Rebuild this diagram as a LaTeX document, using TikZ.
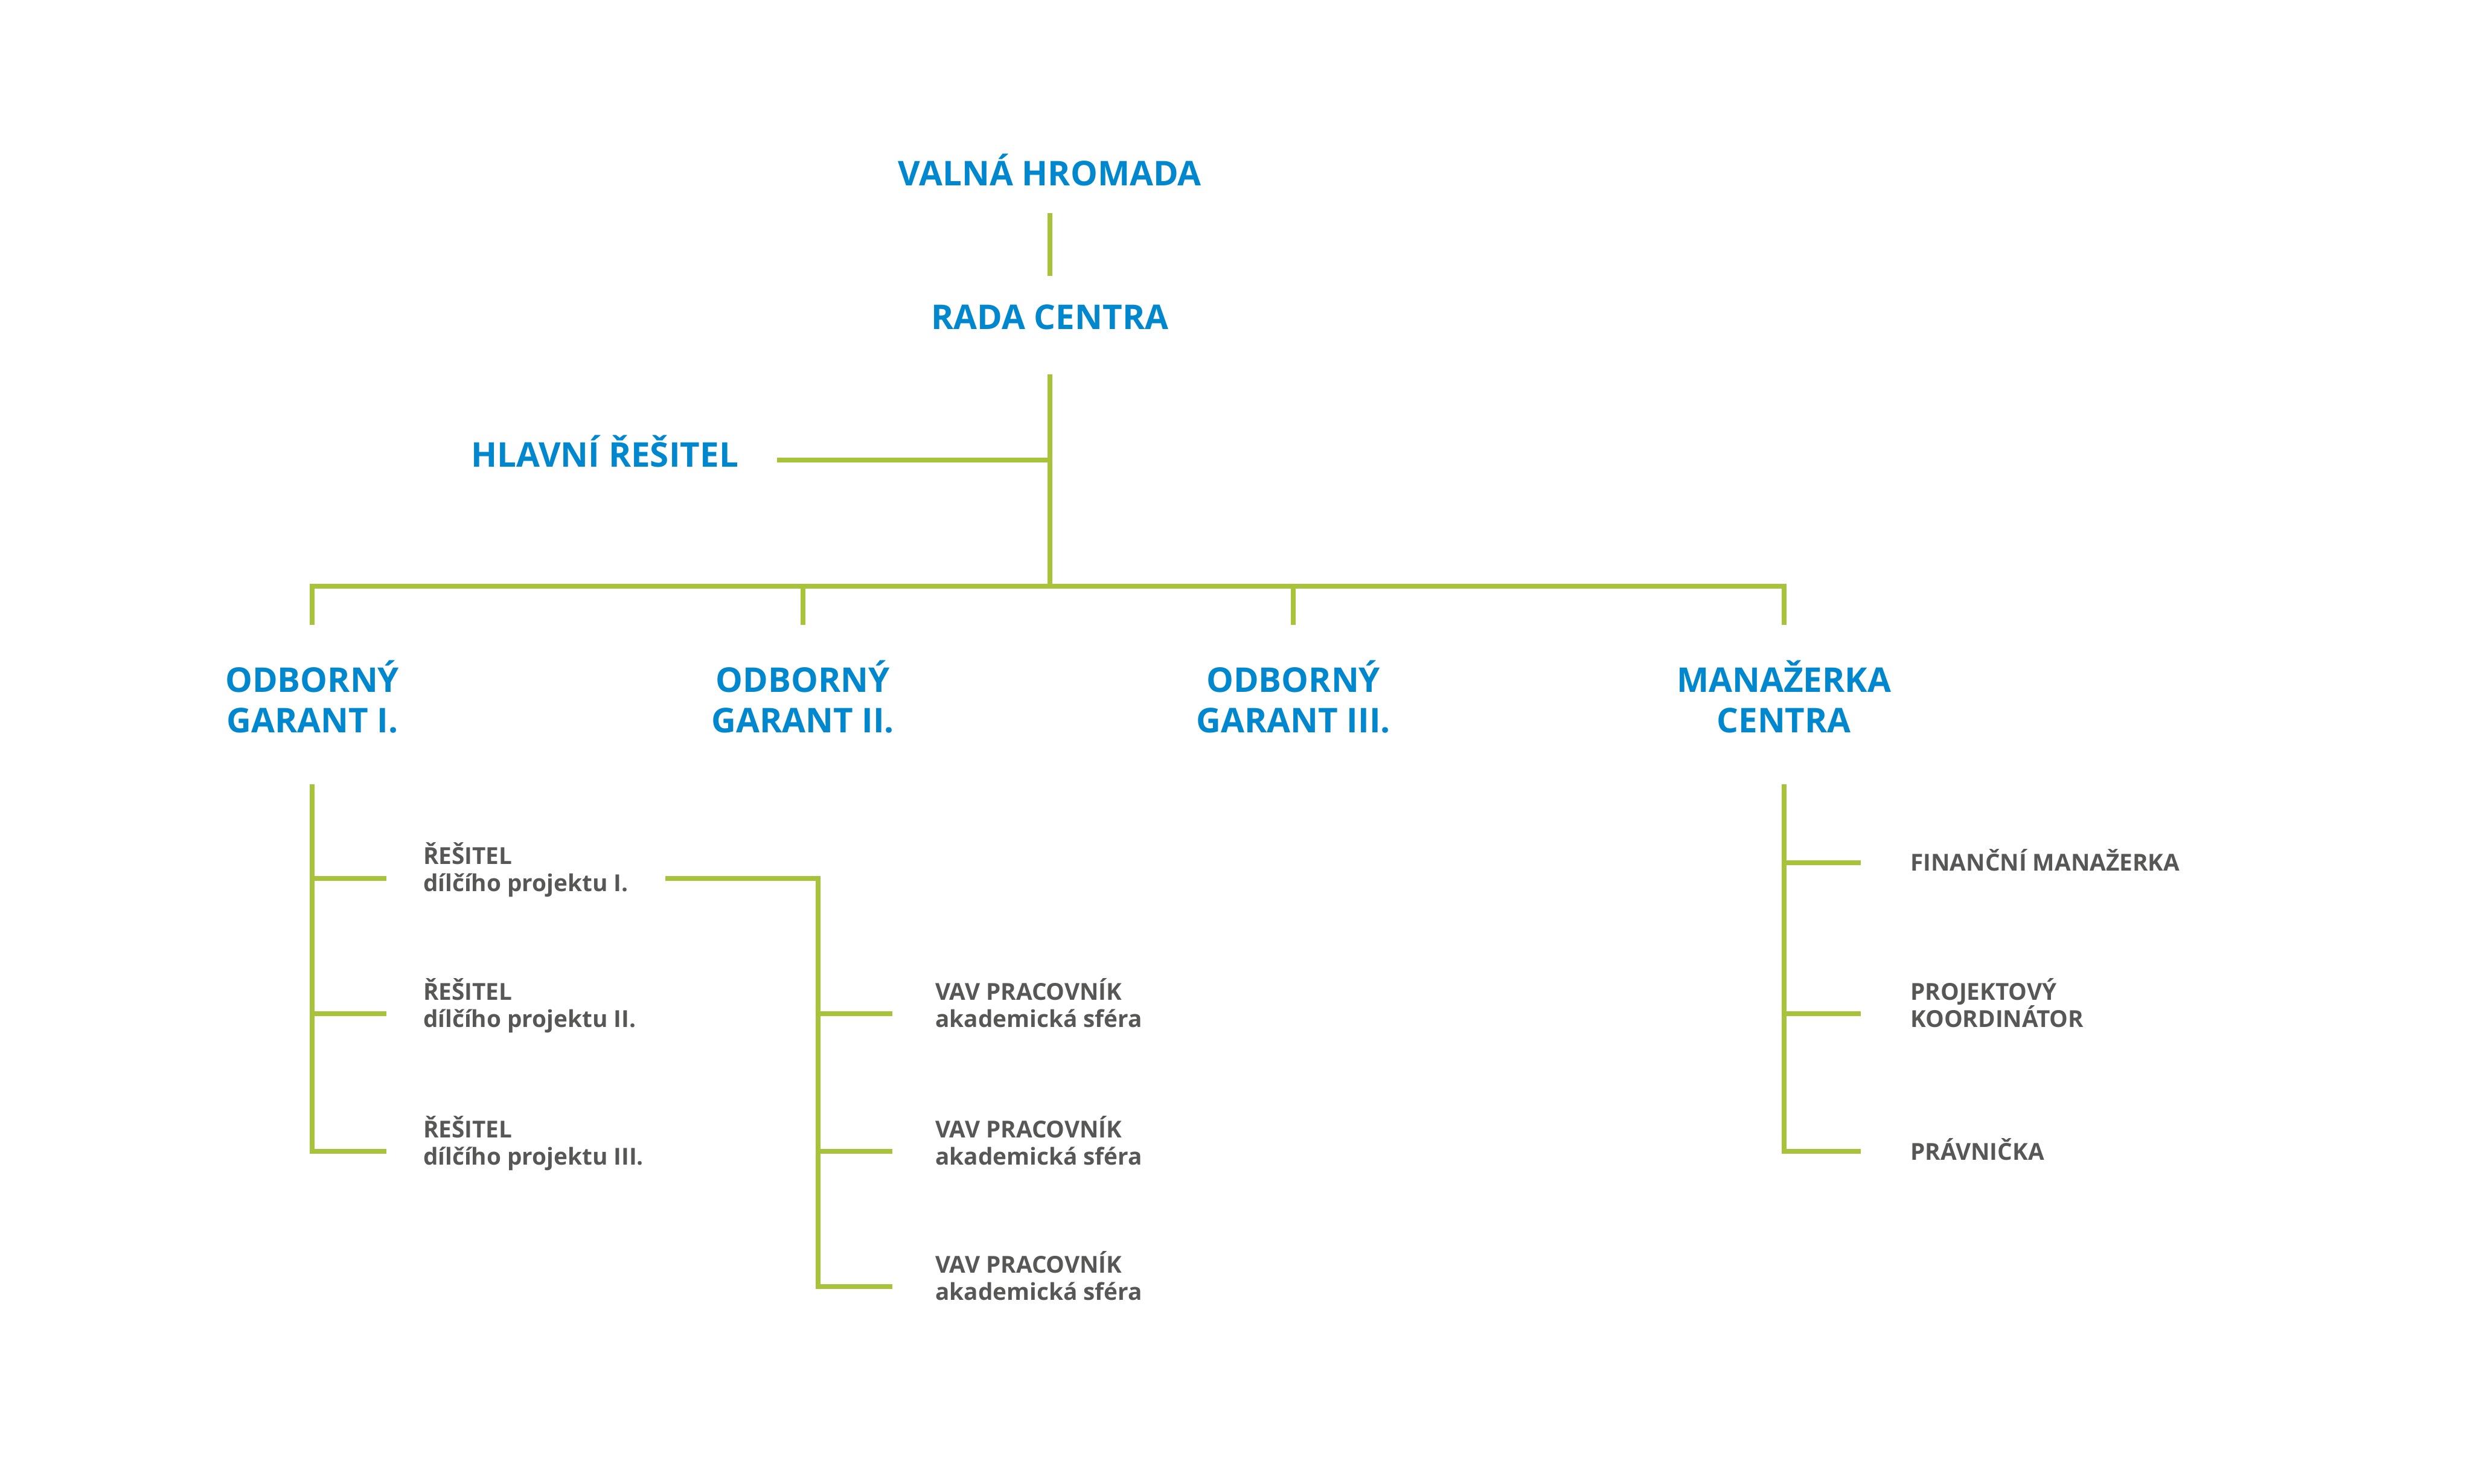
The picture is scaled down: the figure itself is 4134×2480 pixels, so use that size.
\documentclass[tikz,border=0pt]{standalone}
\usepackage{fontspec}
\setmainfont{Open Sans}
\usetikzlibrary{positioning}
\definecolor{modra}{RGB}{0,135,205}
\definecolor{zelena}{RGB}{166,195,57}
\definecolor{seda}{RGB}{87,87,86}

\begin{document}
\begin{tikzpicture}[x=0.01cm, y=-0.01cm,
      organ/.style={text=modra, font=\fontsize{16.2}{19.3}\selectfont\bfseries, align=center, inner sep=0pt, text height=0.42cm, text depth=0pt},
      organ2/.style={organ, text height=1.10cm},
      role/.style={text=seda, font=\fontsize{11.1}{12.8}\selectfont\bfseries, align=left, anchor=west, inner ysep=0pt, inner xsep=0.61cm, text height=0.28cm, text depth=0pt},
      role2/.style={role, text height=0.73cm, text depth=0.29cm},
      linie/.style={draw=zelena, line width=0.08cm}]

\useasboundingbox (0,0) rectangle (4134,2480);

% vedeni
\node[organ] (valna) at (1755,289) {VALNÁ HROMADA};
\node[organ] (rada) at (1755,530) {RADA CENTRA};
\node[organ] (hlavni) at (1011,760) {HLAVNÍ ŘEŠITEL};
\coordinate (hub) at (1755,980);

\node[organ2] (g1) at (522,1170) {ODBORNÝ\\GARANT I.};
\node[organ2] (g2) at (1342,1170) {ODBORNÝ\\GARANT II.};
\node[organ2] (g3) at (2162,1170) {ODBORNÝ\\GARANT III.};
\node[organ2] (m) at (2982,1170) {MANAŽERKA\\CENTRA};

% resitele
\node[role2] (r1) at (646,1468) {ŘEŠITEL\\dílčího projektu I.};
\node[role2] (r2) at (646,1695) {ŘEŠITEL\\dílčího projektu II.};
\node[role2] (r3) at (646,1925) {ŘEŠITEL\\dílčího projektu III.};
\coordinate (vav) at (1368,1468);

\node[role2, inner xsep=0.71cm] (v1) at (1492,1695) {VAV PRACOVNÍK\\akademická sféra};
\node[role2, inner xsep=0.71cm] (v2) at (1492,1925) {VAV PRACOVNÍK\\akademická sféra};
\node[role2, inner xsep=0.71cm] (v3) at (1492,2151) {VAV PRACOVNÍK\\akademická sféra};

\node[role, inner xsep=0.82cm] (f1) at (3111,1442) {FINANČNÍ MANAŽERKA};
\node[role2, inner xsep=0.82cm] (f2) at (3111,1695) {PROJEKTOVÝ\\KOORDINÁTOR};
\node[role, inner xsep=0.82cm] (f3) at (3111,1925) {PRÁVNIČKA};

\draw[linie, shorten <=0.46cm, shorten >=0.47cm] (valna) -- (rada);
\draw[linie, shorten <=0.74cm] (rada) -- (hub);
\draw[linie, shorten <=0.64cm] ([yshift=-0.09cm]hlavni.east) -- ([yshift=-0.09cm]hlavni.east -| hub);
\draw[linie, shorten <=0.70cm, shorten >=0.70cm] (g1.north) |- (hub) -| (m.north);
\draw[linie, shorten >=0.70cm] (g2 |- hub) -- (g2.north);
\draw[linie, shorten >=0.70cm] (g3 |- hub) -- (g3.north);

\foreach \n in {1,2,3}
  \draw[linie, shorten <=0.85cm] (g1.south) |- (r\n.west);
\draw[linie] (r1.east) -- (vav) |- (v3.west);
\foreach \n in {1,2}
  \draw[linie] (vav) |- (v\n.west);
\foreach \n in {1,2,3}
  \draw[linie, shorten <=0.85cm] (m.south) |- (f\n.west);

\end{tikzpicture}
\end{document}
